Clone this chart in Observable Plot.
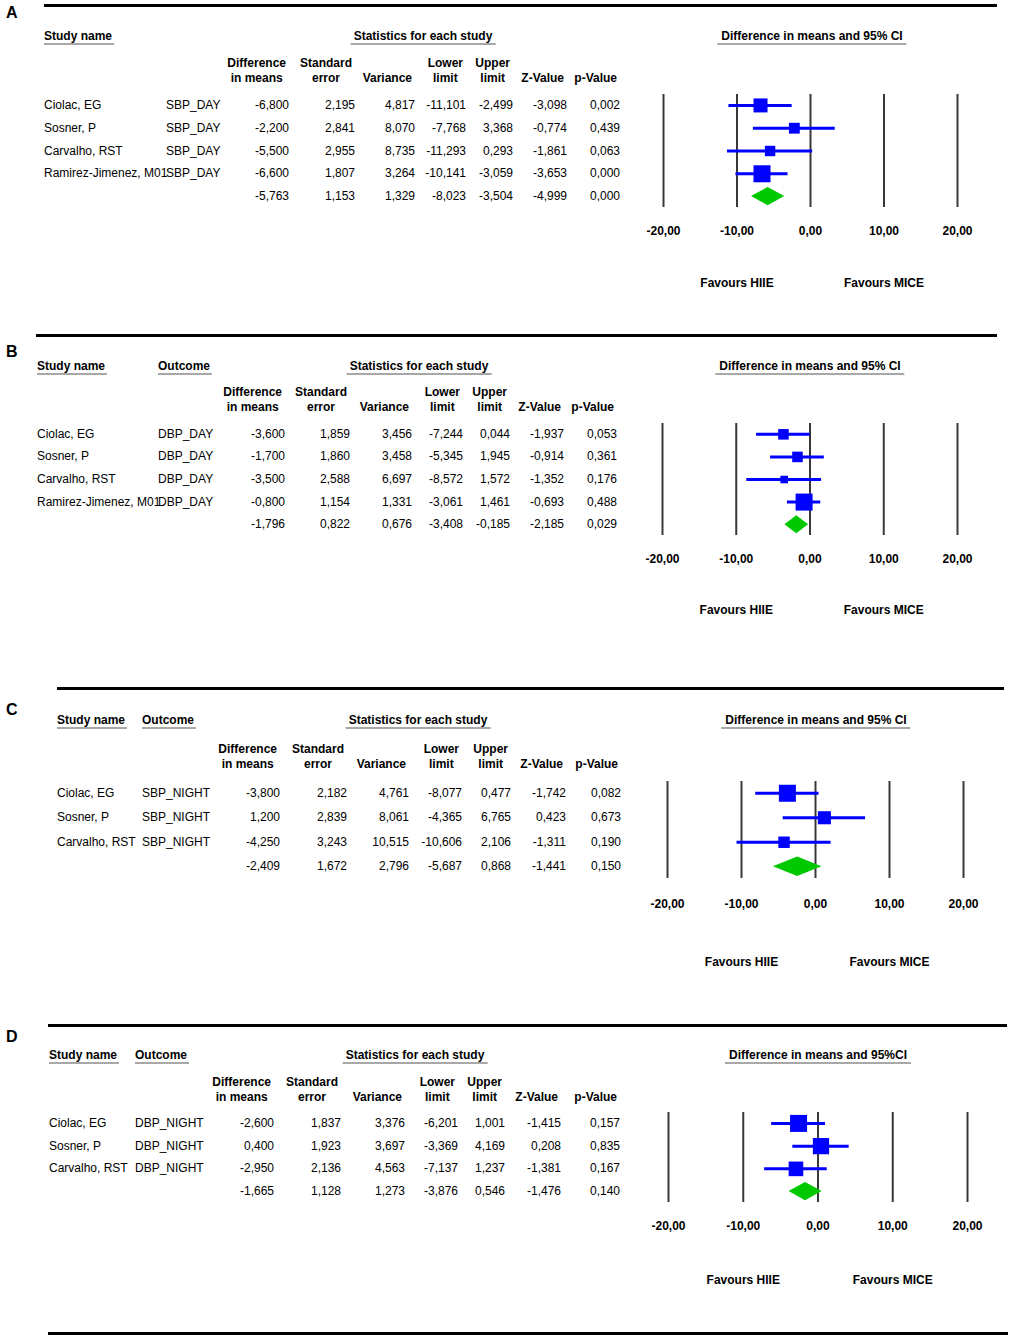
<!DOCTYPE html>
<html><head><meta charset="utf-8">
<script src="https://cdn.jsdelivr.net/npm/d3@7"></script>
<script src="https://cdn.jsdelivr.net/npm/@observablehq/plot@0.6"></script>
<style>
body{margin:0;background:#fff;}
#fig{position:relative;width:1013px;height:1339px;background:#fff;font-family:"Liberation Sans",Arial,Helvetica,sans-serif;font-size:12px;color:#000;overflow:hidden}
.t{position:absolute;white-space:nowrap;line-height:14px}
.b{font-weight:bold}
.r{transform:translateX(-100%);text-align:right}
.c{transform:translateX(-50%);text-align:center}
.h2{transform:translateX(-100%);text-align:center;line-height:15px}
.u{display:inline-block;line-height:14px;border-bottom:2px solid #a8a8a8}
.rule{position:absolute;height:3px;background:#000}
.fp{position:absolute}
.letter{font-size:16px;font-weight:bold}
</style></head><body><div id="fig"></div>
<script>
// ---------- shared labels ----------
const colHeads = [["Difference","in means"],["Standard","error"],["\u00a0","Variance"],["Lower","limit"],["Upper","limit"],["\u00a0","Z-Value"],["\u00a0","p-Value"]];
const axisTicks = [-20, -10, 0, 10, 20];
const favourLabels = ["Favours HIIE", "Favours MICE"];
const favourAt = [-10, 10];

// ---------- Panel A : SBP day ----------
const studiesA = ["Ciolac, EG", "Sosner, P", "Carvalho, RST", "Ramirez-Jimenez, M01"];
const outcomesA = ["SBP_DAY", "SBP_DAY", "SBP_DAY", "SBP_DAY"];
const diffA  = [-6.800, -2.200, -5.500, -6.600, -5.763];
const seA    = [2.195, 2.841, 2.955, 1.807, 1.153];
const varA   = [4.817, 8.070, 8.735, 3.264, 1.329];
const lowerA = [-11.101, -7.768, -11.293, -10.141, -8.023];
const upperA = [-2.499, 3.368, 0.293, -3.059, -3.504];
const zA     = [-3.098, -0.774, -1.861, -3.653, -4.999];
const pA     = [0.002, 0.439, 0.063, 0.000, 0.000];

// ---------- Panel B : DBP day ----------
const studiesB = ["Ciolac, EG", "Sosner, P", "Carvalho, RST", "Ramirez-Jimenez, M01"];
const outcomesB = ["DBP_DAY", "DBP_DAY", "DBP_DAY", "DBP_DAY"];
const diffB  = [-3.600, -1.700, -3.500, -0.800, -1.796];
const seB    = [1.859, 1.860, 2.588, 1.154, 0.822];
const varB   = [3.456, 3.458, 6.697, 1.331, 0.676];
const lowerB = [-7.244, -5.345, -8.572, -3.061, -3.408];
const upperB = [0.044, 1.945, 1.572, 1.461, -0.185];
const zB     = [-1.937, -0.914, -1.352, -0.693, -2.185];
const pB     = [0.053, 0.361, 0.176, 0.488, 0.029];

// ---------- Panel C : SBP night ----------
const studiesC = ["Ciolac, EG", "Sosner, P", "Carvalho, RST"];
const outcomesC = ["SBP_NIGHT", "SBP_NIGHT", "SBP_NIGHT"];
const diffC  = [-3.800, 1.200, -4.250, -2.409];
const seC    = [2.182, 2.839, 3.243, 1.672];
const varC   = [4.761, 8.061, 10.515, 2.796];
const lowerC = [-8.077, -4.365, -10.606, -5.687];
const upperC = [0.477, 6.765, 2.106, 0.868];
const zC     = [-1.742, 0.423, -1.311, -1.441];
const pC     = [0.082, 0.673, 0.190, 0.150];

// ---------- Panel D : DBP night ----------
const studiesD = ["Ciolac, EG", "Sosner, P", "Carvalho, RST"];
const outcomesD = ["DBP_NIGHT", "DBP_NIGHT", "DBP_NIGHT"];
const diffD  = [-2.600, 0.400, -2.950, -1.665];
const seD    = [1.837, 1.923, 2.136, 1.128];
const varD   = [3.376, 3.697, 4.563, 1.273];
const lowerD = [-6.201, -3.369, -7.137, -3.876];
const upperD = [1.001, 4.169, 1.237, 0.546];
const zD     = [-1.415, 0.208, -1.381, -1.476];
const pD     = [0.157, 0.835, 0.167, 0.140];

// ---------- layout (pixel positions only) ----------
const layouts = {
  A: {letterY: 14, rule: [5, 44, 997], head1Y: 36, head2Y: 63, nameX: 44, outX: 166, outHead: false,
      colR: [289, 355, 415, 466, 513, 567, 620], statsC: 423, ciC: 812,
      xm20: 663, xp20: 957, lineTop: 94, lineBottom: 207, tickPad: 18.5, favDy: 79},
  B: {letterY: 353, rule: [335, 36, 997], head1Y: 366, head2Y: 392, nameX: 37, outX: 158, outHead: true,
      colR: [285, 350, 412, 463, 510, 564, 617], statsC: 419, ciC: 810,
      xm20: 662, xp20: 957, lineTop: 423, lineBottom: 535, tickPad: 18.5, favDy: 78},
  C: {letterY: 711, rule: [688, 57, 1004], head1Y: 720, head2Y: 749, nameX: 57, outX: 142, outHead: true,
      colR: [280, 347, 409, 462, 511, 566, 621], statsC: 418, ciC: 816,
      xm20: 667, xp20: 963, lineTop: 781, lineBottom: 878, tickPad: 20.5, favDy: 87},
  D: {letterY: 1038, rule: [1025, 48, 1007], head1Y: 1055, head2Y: 1082, nameX: 49, outX: 135, outHead: true,
      colR: [274, 341, 405, 458, 505, 561, 620], statsC: 415, ciC: 818,
      xm20: 668, xp20: 967, lineTop: 1112, lineBottom: 1202, tickPad: 18.5, favDy: 81}
};
const bottomRule = [1333, 48, 1008];

const panels = [
  {letter: "A", studies: studiesA, outcomes: outcomesA, cols: [diffA, seA, varA, lowerA, upperA, zA, pA], ciTitle: "Difference in means and 95% CI"},
  {letter: "B", studies: studiesB, outcomes: outcomesB, cols: [diffB, seB, varB, lowerB, upperB, zB, pB], ciTitle: "Difference in means and 95% CI"},
  {letter: "C", studies: studiesC, outcomes: outcomesC, cols: [diffC, seC, varC, lowerC, upperC, zC, pC], ciTitle: "Difference in means and 95% CI"},
  {letter: "D", studies: studiesD, outcomes: outcomesD, cols: [diffD, seD, varD, lowerD, upperD, zD, pD], ciTitle: "Difference in means and 95%CI"}
];

const fig = document.getElementById("fig");
const fmt3 = v => v.toFixed(3).replace(".", ",");
const fmt2 = v => v.toFixed(2).replace(".", ",");

function el(html, cls, x, y, style = "") {
  const d = document.createElement("div");
  d.className = cls;
  d.style.cssText = `left:${x}px;top:${y}px;${style}`;
  d.innerHTML = html;
  fig.appendChild(d);
  return d;
}
function rule([y, x1, x2]) {
  el("", "rule", x1, y - 1.5, `width:${x2 - x1}px`);
}

for (const p of panels) {
  const L = layouts[p.letter];
  const n = p.studies.length;
  const step = (L.lineBottom - L.lineTop) / (n + 0.96);
  const rowY = i => L.lineTop + (i + 0.48) * step;

  rule(L.rule);
  el(p.letter, "t letter", 6, L.letterY - 8);

  // header row 1
  el(`<span class="u" style="padding-right:2px">Study name</span>`, "t b", L.nameX, L.head1Y - 7);
  if (L.outHead) el(`<span class="u" style="padding-right:2px">Outcome</span>`, "t b", L.outX, L.head1Y - 7);
  el(`<span class="u" style="padding:0 3px">Statistics for each study</span>`, "t b c", L.statsC, L.head1Y - 7);
  el(`<span class="u" style="padding:0 4px">${p.ciTitle}</span>`, "t b c", L.ciC, L.head1Y - 7);

  // column headers
  colHeads.forEach((h, j) => {
    el(h.join("<br>"), "t b h2", L.colR[j] - 3, L.head2Y - 7.5);
  });

  // rows
  for (let i = 0; i <= n; i++) {
    const y = rowY(i) - 7;
    if (i < n) {
      el(p.studies[i], "t", L.nameX, y);
      el(p.outcomes[i], "t", L.outX, y);
    }
    p.cols.forEach((col, j) => el(fmt3(col[i]), "t r", L.colR[j], y));
  }

  // forest plot
  const left = 628, width = 380;
  const top = L.lineTop - 10;
  const height = Math.round(L.lineBottom - top + L.favDy + 14);
  const diff = p.cols[0], vr = p.cols[2], lo = p.cols[3], hi = p.cols[4];
  const rows = p.studies.map((s, i) => ({i, est: diff[i], lo: lo[i], hi: hi[i], w: 1 / vr[i]}));
  const diamond = [
    {y: n - 0.4, x1: diff[n], x2: diff[n]},
    {y: n, x1: lo[n], x2: hi[n]},
    {y: n + 0.4, x1: diff[n], x2: diff[n]}
  ];
  const chart = Plot.plot({
    width, height,
    marginTop: L.lineTop - top,
    marginBottom: height - (L.lineBottom - top),
    marginLeft: 0, marginRight: 0,
    style: {background: "transparent", overflow: "visible", fontFamily: "'Liberation Sans', Arial, sans-serif"},
    x: {domain: [-20, 20], range: [L.xm20 - left, L.xp20 - left], label: null},
    y: {domain: [-0.48, n + 0.48], range: [L.lineTop - top, L.lineBottom - top], axis: null},
    r: {type: "sqrt", domain: [0, d3.max(rows, d => d.w)], range: [0, 9.6]},
    marks: [
      Plot.gridX(axisTicks, {stroke: "#383838", strokeOpacity: 1, strokeWidth: 2}),
      Plot.axisX({ticks: axisTicks, tickSize: 0, tickPadding: L.tickPad, tickFormat: fmt2, label: null,
                  fontWeight: "bold", fontSize: 12, fill: "#000"}),
      Plot.ruleY(rows, {y: "i", x1: "lo", x2: "hi", stroke: "#0000ff", strokeWidth: 3}),
      Plot.dot(rows, {x: "est", y: "i", r: "w", symbol: "square", fill: "#0000ff"}),
      Plot.areaX(diamond, {y: "y", x1: "x1", x2: "x2", fill: "#00c800"}),
      Plot.text(favourLabels, {x: (d, i) => favourAt[i], text: d => d, frameAnchor: "bottom", dy: L.favDy,
                               fontWeight: "bold", fontSize: 12, fill: "#000"})
    ]
  });
  const holder = el("", "fp", left, top, `width:${width}px;height:${height}px`);
  holder.appendChild(chart);
}
rule(bottomRule);
</script></body></html>
